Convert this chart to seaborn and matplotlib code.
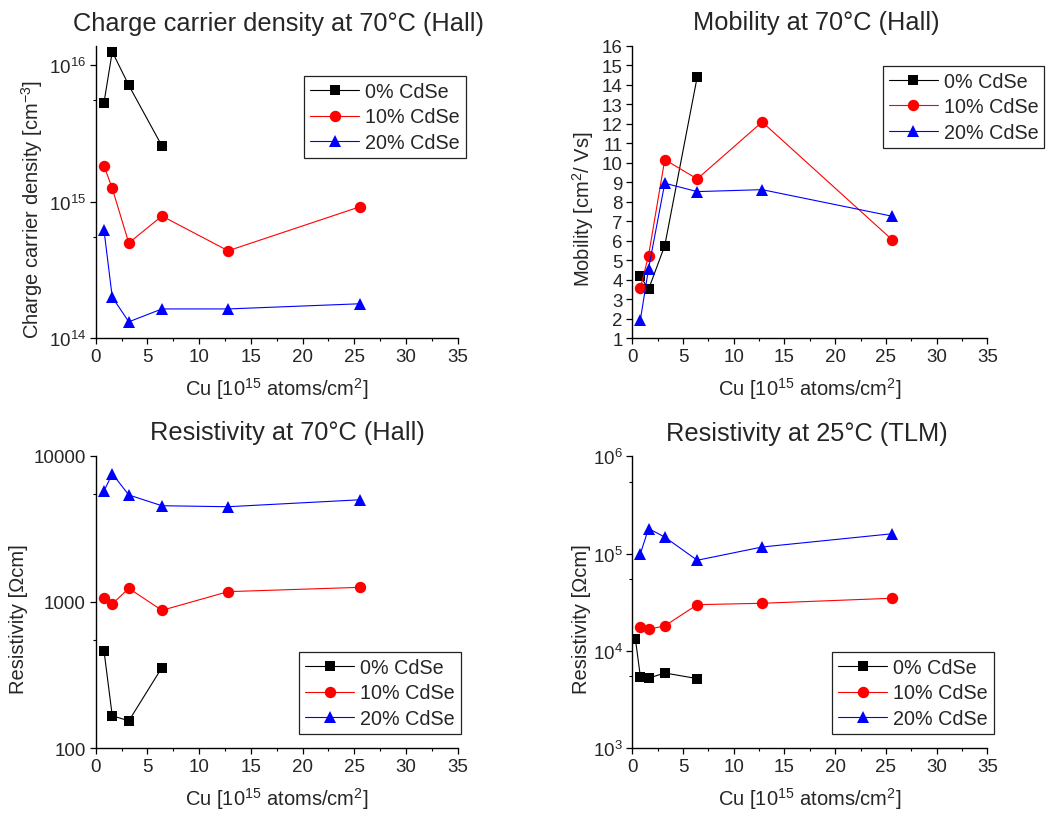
import numpy as np
import pandas as pd
import matplotlib
matplotlib.use("Agg")
import matplotlib.pyplot as plt
import seaborn as sns
from matplotlib.ticker import FixedLocator, MultipleLocator, NullFormatter, FuncFormatter

# ---------------- data ----------------
series = ["0% CdSe", "10% CdSe", "20% CdSe"]
cu = [0.8, 1.6, 3.2, 6.4, 12.8, 25.6]
cu_0 = [0.8, 1.6, 3.2, 6.4]
cu_tlm_0 = [0.3, 0.8, 1.6, 3.2, 6.4]

density_0 = [5.3e15, 1.25e16, 7.1e15, 2.56e15]
density_10 = [1.83e15, 1.25e15, 4.98e14, 7.85e14, 4.37e14, 9.2e14]
density_20 = [6.2e14, 2.0e14, 1.32e14, 1.64e14, 1.64e14, 1.79e14]

mobility_0 = [4.18, 3.51, 5.75, 14.4]
mobility_10 = [3.6, 5.24, 10.16, 9.17, 12.09, 6.06]
mobility_20 = [1.96, 4.56, 8.95, 8.52, 8.62, 7.26]

res70_0 = [465, 167, 154, 356]
res70_10 = [1065, 970, 1240, 877, 1177, 1260]
res70_20 = [5730, 7530, 5390, 4550, 4480, 5000]

res25_0 = [13400, 5400, 5250, 5940, 5200]
res25_10 = [17500, 16700, 18100, 29900, 30900, 34800]
res25_20 = [100000, 181000, 148000, 85500, 117000, 160000]

x_ticks = [0, 5, 10, 15, 20, 25, 30, 35]

# ---------------- style ----------------
sns.set_theme(style="ticks")
plt.rcParams["font.family"] = ["Liberation Sans", "DejaVu Sans"]
plt.rcParams["mathtext.fontset"] = "custom"
plt.rcParams["mathtext.rm"] = "Liberation Sans"
plt.rcParams["mathtext.it"] = "Liberation Sans:italic"
plt.rcParams["mathtext.bf"] = "Liberation Sans:bold"
plt.rcParams["mathtext.default"] = "regular"

colors = {"0% CdSe": "black", "10% CdSe": "#ff0000", "20% CdSe": "#0000ff"}
markers = {"0% CdSe": "s", "10% CdSe": "o", "20% CdSe": "^"}
msizes = {"0% CdSe": 7.2, "10% CdSe": 8.2, "20% CdSe": 8.8}

fig = plt.figure(figsize=(10.54, 8.2), dpi=100)

W, H = 1054.0, 820.0
def rect(l, r, t, b):
    return [l / W, 1 - b / H, (r - l) / W, (b - t) / H]

ax_tl = fig.add_axes(rect(95.7, 457.7, 47.3, 339.3))
ax_tr = fig.add_axes(rect(632.3, 987.3, 46.7, 339.3))
ax_bl = fig.add_axes(rect(95.7, 457.7, 456.7, 749.3))
ax_br = fig.add_axes(rect(632.3, 987.3, 457.3, 749.3))

def draw(ax, xs_list, ys_list):
    for name, xs, ys in zip(series, xs_list, ys_list):
        df = pd.DataFrame({"x": xs, "y": ys})
        sns.lineplot(data=df, x="x", y="y", ax=ax, color=colors[name],
                     marker=markers[name], markersize=msizes[name],
                     markeredgewidth=0, linewidth=0.8, label=name,
                     sort=False, errorbar=None)

def sup_fmt(v, pos):
    e = int(round(np.log10(v)))
    return r"$10^{%d}$" % e

def style_axes(ax, title, title_x, ylabel, legend_xy, ylabel_pad):
    ax.set_xlim(0, 35)
    ax.xaxis.set_major_locator(FixedLocator(x_ticks))
    ax.xaxis.set_minor_locator(MultipleLocator(2.5))
    for s in ["top", "right"]:
        ax.spines[s].set_visible(False)
    for s in ["left", "bottom"]:
        ax.spines[s].set_linewidth(1.0)
        ax.spines[s].set_color("black")
    ax.tick_params(which="major", direction="out", length=4.5, width=0.9,
                   labelsize=13.5, color="black", pad=2.5)
    ax.tick_params(which="minor", direction="out", length=2.5, width=0.8,
                   color="black")
    ax.set_title(title, fontsize=18.3, pad=12, x=title_x)
    ax.set_xlabel(r"Cu [10$^{15}$ atoms/cm$^{2}$]", fontsize=14.5, labelpad=7)
    ax.set_ylabel(ylabel, fontsize=14.5, labelpad=ylabel_pad, y=0.445)
    ax.grid(False)
    leg = ax.legend(loc="upper left", bbox_to_anchor=(legend_xy[0] / W, 1 - legend_xy[1] / H),
                    bbox_transform=fig.transFigure, fontsize=14.2, frameon=True,
                    fancybox=False, framealpha=1, edgecolor="#222222",
                    borderpad=0.3, handlelength=2.5, handletextpad=0.3,
                    labelspacing=0.33, borderaxespad=0)
    leg.get_frame().set_linewidth(0.9)

# top-left: carrier density
draw(ax_tl, [cu_0, cu, cu], [density_0, density_10, density_20])
ax_tl.set_yscale("log")
ax_tl.set_ylim(1e14, 1.37e16)
ax_tl.yaxis.set_major_locator(FixedLocator([1e14, 1e15, 1e16]))
ax_tl.yaxis.set_major_formatter(FuncFormatter(sup_fmt))
ax_tl.yaxis.set_minor_locator(FixedLocator([5.5e14, 5.5e15]))
ax_tl.yaxis.set_minor_formatter(NullFormatter())
style_axes(ax_tl, "Charge carrier density at 70°C (Hall)", 0.5036,
           r"Charge carrier density [cm$^{-3}$]", (304, 77), 3)

# top-right: mobility
draw(ax_tr, [cu_0, cu, cu], [mobility_0, mobility_10, mobility_20])
ax_tr.set_ylim(1, 16)
ax_tr.yaxis.set_major_locator(MultipleLocator(1))
style_axes(ax_tr, "Mobility at 70°C (Hall)", 0.518,
           r"Mobility [cm$^{2}$/ Vs]", (882.7, 66.7), 4)

# bottom-left: resistivity 70C
draw(ax_bl, [cu_0, cu, cu], [res70_0, res70_10, res70_20])
ax_bl.set_yscale("log")
ax_bl.set_ylim(100, 10000)
ax_bl.yaxis.set_major_locator(FixedLocator([100, 1000, 10000]))
ax_bl.yaxis.set_major_formatter(FuncFormatter(lambda v, p: "%d" % int(round(v))))
ax_bl.yaxis.set_minor_locator(FixedLocator([550, 5500]))
ax_bl.yaxis.set_minor_formatter(NullFormatter())
style_axes(ax_bl, "Resistivity at 70°C (Hall)", 0.53,
           "Resistivity [Ωcm]", (299, 653), 4)

# bottom-right: resistivity 25C TLM
draw(ax_br, [cu_tlm_0, cu, cu], [res25_0, res25_10, res25_20])
ax_br.set_yscale("log")
ax_br.set_ylim(1e3, 1e6)
ax_br.yaxis.set_major_locator(FixedLocator([1e3, 1e4, 1e5, 1e6]))
ax_br.yaxis.set_major_formatter(FuncFormatter(sup_fmt))
ax_br.yaxis.set_minor_locator(FixedLocator([5.5e3, 5.5e4, 5.5e5]))
ax_br.yaxis.set_minor_formatter(NullFormatter())
style_axes(ax_br, "Resistivity at 25°C (TLM)", 0.4907,
           "Resistivity [Ωcm]", (832, 653), 1.5)

fig.savefig("out.png", dpi=100, facecolor="white")
